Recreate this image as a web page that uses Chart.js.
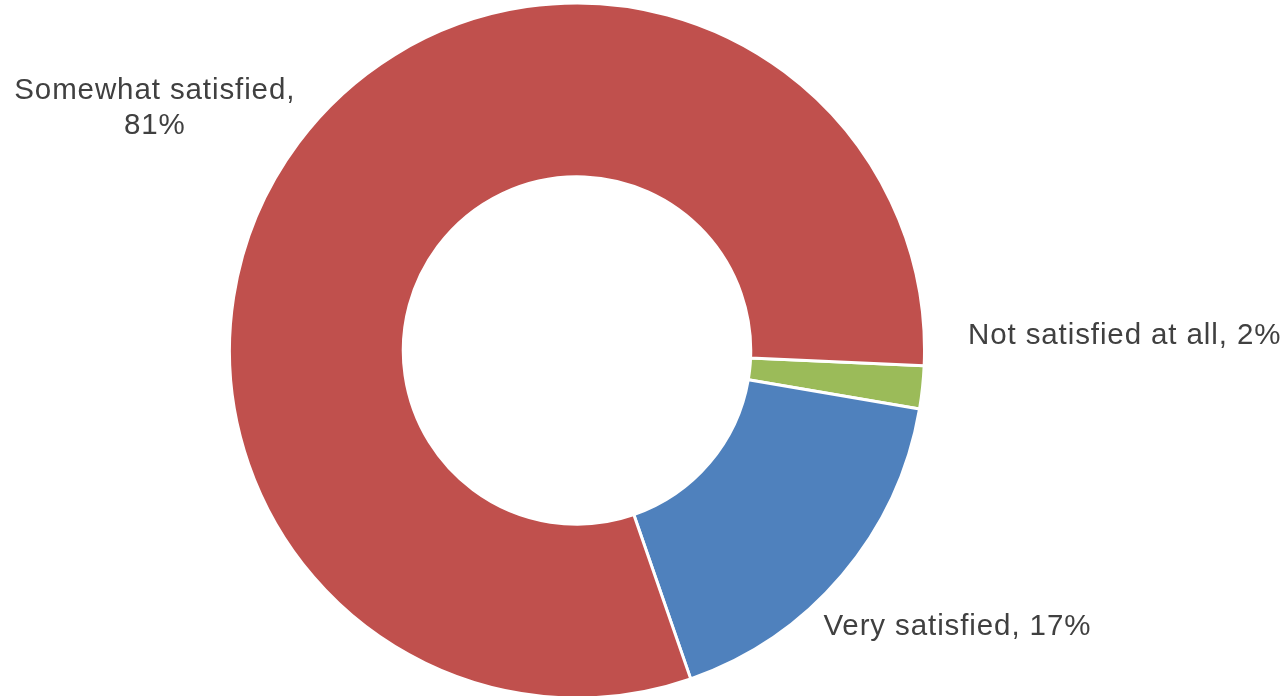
<!DOCTYPE html>
<html>
<head>
<meta charset="utf-8">
<script src="https://cdn.jsdelivr.net/npm/chart.js@4.4.1/dist/chart.umd.min.js"></script>
<style>
  html, body { margin: 0; padding: 0; background: #ffffff; }
  #wrap { width: 1287px; height: 696px; position: relative; }
</style>
</head>
<body>
<div id="wrap"><canvas id="chart" width="1287" height="696"></canvas></div>
<script>
// Satisfaction survey results (percent of respondents)
const categories = ['Not satisfied at all', 'Very satisfied', 'Somewhat satisfied'];
const shares = [2, 17, 81];
const sliceColors = ['#9BBB59', '#4F81BD', '#C0504D'];

// Label placement: offset from the doughnut centre, expressed in units of the outer radius,
// plus text alignment and the text lines to draw.
const labelPlacement = [
  { dx: 1.125, dy: -0.02, align: 'left', lines: (c, v) => [c + ', ' + v + '%'] },
  { dx: 0.709, dy: 0.818, align: 'left', lines: (c, v) => [c + ', ' + v + '%'] },
  { dx: -1.215, dy: -0.725, align: 'center', lines: (c, v) => [c + ',', v + '%'] }
];

const outsideLabels = {
  id: 'outsideLabels',
  afterDatasetsDraw(chart) {
    const meta = chart.getDatasetMeta(0);
    const ctx = chart.ctx;
    ctx.save();
    ctx.fillStyle = '#404040';
    ctx.font = '29.5px "Liberation Sans", Arial, sans-serif';
    ctx.letterSpacing = '0.9px';
    ctx.textBaseline = 'alphabetic';
    meta.data.forEach((arc, i) => {
      const p = labelPlacement[i];
      const r = arc.outerRadius;
      const x = arc.x + p.dx * r;
      const y = arc.y + p.dy * r;
      const lines = p.lines(categories[i], shares[i]);
      ctx.textAlign = p.align;
      lines.forEach((t, k) => ctx.fillText(t, x, y + k * 35));
    });
    ctx.restore();
  }
};

new Chart(document.getElementById('chart'), {
  type: 'doughnut',
  data: {
    labels: categories,
    datasets: [{
      data: shares,
      backgroundColor: sliceColors,
      borderColor: '#ffffff',
      borderWidth: 3,
      hoverOffset: 0
    }]
  },
  options: {
    responsive: false,
    animation: false,
    rotation: 92.5,
    cutout: '50%',
    radius: 347.5,
    layout: { padding: { left: 0, right: 133, top: 5, bottom: 0 } },
    plugins: {
      legend: { display: false },
      tooltip: { enabled: false }
    }
  },
  plugins: [outsideLabels]
});
</script>
</body>
</html>
